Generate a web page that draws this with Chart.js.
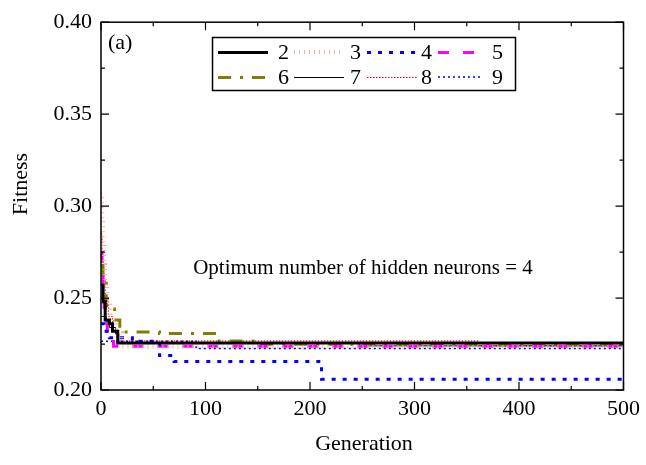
<!DOCTYPE html>
<html>
<head>
<meta charset="utf-8">
<script src="https://cdn.jsdelivr.net/npm/chart.js@4/dist/chart.umd.min.js"></script>
<style>
  body { margin: 0; background: #fff; }
  canvas { display: block; }
</style>
</head>
<body>
<canvas id="chart" width="646" height="465"></canvas>
<script>
// neuron counts shown in the legend
const neuronLabels = ['2', '3', '4', '5', '6', '7', '8', '9'];

// best fitness per generation, only where the value changes (stepped)
const gen2 = [0, 2, 4, 8, 11, 16, 500];
const fit2 = [0.257, 0.248, 0.238, 0.236, 0.232, 0.2255, 0.2255];

const gen3 = [0, 1, 2, 3, 4, 6, 9, 14, 20, 500];
const fit3 = [0.307, 0.292, 0.280, 0.268, 0.257, 0.247, 0.238, 0.231, 0.2235, 0.2235];

const gen4 = [0, 3, 8, 30, 56, 70, 211, 500];
const fit4 = [0.236, 0.232, 0.2284, 0.2265, 0.2187, 0.2155, 0.2059, 0.2059];

const gen5 = [0, 1, 2, 3, 4, 6, 8, 12, 500];
const fit5 = [0.2747, 0.265, 0.255, 0.245, 0.238, 0.232, 0.228, 0.2238, 0.2238];

const gen6 = [0, 2, 5, 11, 13, 18, 56, 113, 150, 500];
const fit6 = [0.2677, 0.258, 0.246, 0.244, 0.238, 0.2316, 0.2307, 0.2267, 0.2249, 0.2249];

const gen7 = [0, 5, 8, 14, 17, 247, 500];
const fit7 = [0.240, 0.237, 0.234, 0.2304, 0.2255, 0.224, 0.224];

const gen8 = [0, 1, 2, 4, 7, 11, 16, 361, 500];
const fit8 = [0.285, 0.270, 0.260, 0.250, 0.240, 0.232, 0.2267, 0.224, 0.224];

const gen9 = [0, 91, 500];
const fit9 = [0.2265, 0.2226, 0.2226];

const xTicks = [0, 100, 200, 300, 400, 500];
const yTicks = [0.20, 0.25, 0.30, 0.35, 0.40];

const FONT = 'Liberation Serif';

const toPoints = (gens, fits) => gens.map((g, i) => ({ x: g, y: fits[i] }));

const makeSet = (label, gens, fits, color, width, dash) => ({
  label,
  data: toPoints(gens, fits),
  borderColor: color,
  backgroundColor: color,
  borderWidth: width,
  borderDash: dash,
  borderCapStyle: 'butt',
  stepped: true,
  pointRadius: 0,
  fill: false
});

const datasets = [
  makeSet(neuronLabels[0], gen2, fit2, '#000000', 3, []),
  makeSet(neuronLabels[1], gen3, fit3, '#ffaaaa', 4, [1, 4]),
  makeSet(neuronLabels[2], gen4, fit4, '#0000ff', 3, [4, 7]),
  makeSet(neuronLabels[3], gen5, fit5, '#ff00ff', 3, [11, 14]),
  makeSet(neuronLabels[4], gen6, fit6, '#808000', 3, [13, 9, 3, 9]),
  makeSet(neuronLabels[5], gen7, fit7, '#000000', 1, []),
  makeSet(neuronLabels[6], gen8, fit8, '#ee0000', 1, [1.5, 1.5]),
  makeSet(neuronLabels[7], gen9, fit9, '#0000ff', 1.5, [2, 3])
];

// frame, inward ticks, legend box and the free texts
const decorations = {
  id: 'decorations',
  afterDraw(chart) {
    const { ctx, chartArea: a, scales } = chart;
    const xs = scales.x, ys = scales.y;
    ctx.save();
    ctx.strokeStyle = '#000';
    ctx.lineWidth = 1.5;
    ctx.strokeRect(a.left, a.top, a.right - a.left, a.bottom - a.top);

    ctx.lineWidth = 1.2;
    ctx.beginPath();
    for (let v = 0; v <= 500; v += 50) {
      const px = xs.getPixelForValue(v);
      const len = v % 100 === 0 ? 8 : 4;
      ctx.moveTo(px, a.bottom); ctx.lineTo(px, a.bottom - len);
      ctx.moveTo(px, a.top); ctx.lineTo(px, a.top + len);
    }
    for (let i = 0; i <= 8; i++) {
      const v = 0.20 + i * 0.025;
      const py = ys.getPixelForValue(v);
      const len = i % 2 === 0 ? 8 : 4;
      ctx.moveTo(a.left, py); ctx.lineTo(a.left + len, py);
      ctx.moveTo(a.right, py); ctx.lineTo(a.right - len, py);
    }
    ctx.stroke();

    // legend
    ctx.lineWidth = 1.5;
    ctx.strokeRect(212.5, 37.5, 303, 53);
    const sampleX = [218, 294, 367, 438];
    const sampleW = [50, 50, 50, 42];
    const labelX = [278, 350, 421, 492];
    const rowY = [52, 77];
    ctx.font = '22px "' + FONT + '"';
    ctx.fillStyle = '#000';
    ctx.textBaseline = 'middle';
    chart.data.datasets.forEach((ds, i) => {
      const r = Math.floor(i / 4), c = i % 4;
      const y = ds.borderWidth % 2 === 1 ? rowY[r] + 0.5 : rowY[r];
      ctx.save();
      ctx.strokeStyle = ds.borderColor;
      ctx.lineWidth = ds.borderWidth;
      ctx.setLineDash(ds.borderDash);
      ctx.lineCap = 'butt';
      ctx.beginPath();
      ctx.moveTo(sampleX[c], y);
      ctx.lineTo(sampleX[c] + sampleW[c], y);
      ctx.stroke();
      ctx.restore();
      ctx.fillText(ds.label, labelX[c], rowY[r] + 1);
    });

    ctx.textAlign = 'left';
    ctx.fillText('(a)', 108, 43);

    ctx.textAlign = 'center';
    ctx.font = '21px "' + FONT + '"';
    ctx.fillText('Optimum number of hidden neurons = 4', 363, 268);

    ctx.font = '22px "' + FONT + '"';
    ctx.fillText('Generation', 364, 444);

    ctx.translate(21, 184);
    ctx.rotate(-Math.PI / 2);
    ctx.fillText('Fitness', 0, 0);
    ctx.restore();
  }
};

new Chart(document.getElementById('chart'), {
  type: 'line',
  data: { datasets },
  plugins: [decorations],
  options: {
    responsive: false,
    animation: false,
    devicePixelRatio: 1,
    layout: { padding: { top: 16, right: 20, left: 0, bottom: 0 } },
    plugins: {
      legend: { display: false },
      tooltip: { enabled: false }
    },
    scales: {
      x: {
        type: 'linear',
        min: 0,
        max: 500,
        afterFit: (s) => { s.height = 75; },
        afterBuildTicks: (s) => { s.ticks = xTicks.map(v => ({ value: v })); },
        ticks: { color: '#000', padding: 6, maxRotation: 0, font: { family: FONT, size: 22 } },
        grid: { display: false, drawTicks: false },
        border: { display: false }
      },
      y: {
        min: 0.20,
        max: 0.40,
        afterFit: (s) => { s.width = 101; },
        afterBuildTicks: (s) => { s.ticks = yTicks.map(v => ({ value: v })); },
        ticks: {
          color: '#000',
          padding: 9,
          font: { family: FONT, size: 22 },
          callback: (v) => Number(v).toFixed(2)
        },
        grid: { display: false, drawTicks: false },
        border: { display: false }
      }
    }
  }
});
</script>
</body>
</html>
